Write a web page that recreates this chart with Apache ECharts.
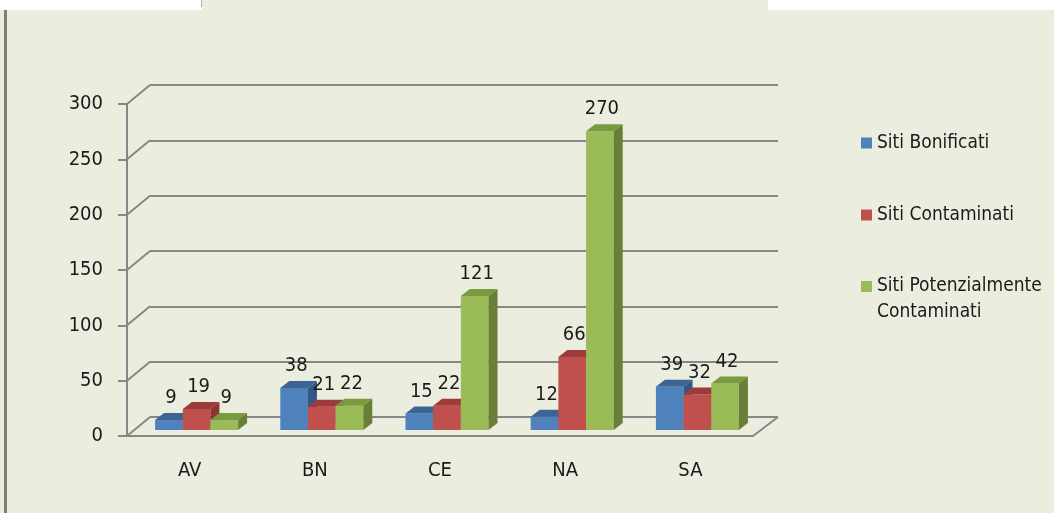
<!DOCTYPE html>
<html>
<head>
<meta charset="utf-8">
<script src="https://cdn.jsdelivr.net/npm/echarts@6/dist/echarts.min.js"></script>
<style>
  html, body { margin: 0; padding: 0; background: #ebeedf; }
  #chart { width: 1054px; height: 513px; }
</style>
</head>
<body>
<div id="chart"></div>
<script>
const province = ['AV', 'BN', 'CE', 'NA', 'SA'];
const bonificati = [9, 38, 15, 12, 39];
const contaminati = [19, 21, 22, 66, 32];
const potenziali = [9, 22, 121, 270, 42];
const yTicks = [0, 50, 100, 150, 200, 250, 300];

const seriesNames = ['Siti Bonificati', 'Siti Contaminati', 'Siti Potenzialmente Contaminati'];
const faceColors = [
  { front: '#4f81bd', top: '#3c6494', side: '#345886' },
  { front: '#c0504d', top: '#9c3b39', side: '#8c3533' },
  { front: '#9bbb59', top: '#7a9a3f', side: '#697f37' }
];
const font = '"DejaVu Sans Condensed", "DejaVu Sans", sans-serif';
const DX = 9, DY = 7;

const chart = echarts.init(document.getElementById('chart'));

function barRender(k) {
  return function (params, api) {
    const i = api.value(0), v = api.value(1);
    const top = api.coord([i, v]);
    const base = api.coord([i, 0]);
    const band = api.size([1, 0])[0];
    const w = band * 0.221;
    const x0 = top[0] - w * 1.5 + k * w;
    const yT = top[1], yB = base[1];
    const c = faceColors[k];
    return {
      type: 'group',
      children: [
        { type: 'rect', shape: { x: x0, y: yT, width: w, height: yB - yT }, style: { fill: c.front } },
        { type: 'polygon', shape: { points: [[x0, yT], [x0 + DX, yT - DY], [x0 + w + DX, yT - DY], [x0 + w, yT]] }, style: { fill: c.top } },
        { type: 'polygon', shape: { points: [[x0 + w, yT], [x0 + w + DX, yT - DY], [x0 + w + DX, yB - DY], [x0 + w, yB]] }, style: { fill: c.side } },
        { type: 'text', style: { x: x0 + w / 2 + 2, y: yT - DY - 5, text: String(v), fill: '#1a1a1a', font: '20px ' + font, align: 'center', verticalAlign: 'bottom' } }
      ]
    };
  };
}

function wallRender(params, api) {
  const v = api.value(1);
  const p = api.coord([0, v]);
  const x = params.coordSys.x;
  const children = [
    { type: 'line', shape: { x1: x, y1: p[1], x2: x + 23, y2: p[1] - 19 }, style: { stroke: '#878787', lineWidth: 2 } }
  ];
  if (v === 0) {
    const xr = params.coordSys.x + params.coordSys.width;
    children.push({ type: 'line', shape: { x1: xr, y1: p[1], x2: xr + 25, y2: p[1] - 19 }, style: { stroke: '#878787', lineWidth: 2 } });
  }
  return { type: 'group', children: children };
}

const seriesData = [bonificati, contaminati, potenziali];

const legendText = { fontSize: 19, lineHeight: 22, color: '#1a1a1a', fontFamily: font };

const option = {
  backgroundColor: '#ebeedf',
  animation: false,
  textStyle: { fontFamily: font },
  grid: [
    { left: 127, top: 104, width: 626, height: 332 },
    { left: 150, top: 85, width: 628, height: 332 },
    { left: 134, top: 98, width: 626, height: 332 }
  ],
  xAxis: [
    {
      gridIndex: 0, type: 'category', data: province,
      axisLine: { lineStyle: { color: '#878787', width: 2 } },
      axisTick: { length: 6, lineStyle: { color: '#878787', width: 2 } },
      axisLabel: { color: '#1a1a1a', fontSize: 20, margin: 25, fontFamily: font }
    },
    { gridIndex: 1, type: 'category', data: province, show: false },
    { gridIndex: 2, type: 'category', data: province, show: false }
  ],
  yAxis: [
    {
      gridIndex: 0, type: 'value', min: 0, max: 300, interval: 50,
      axisLine: { show: true, lineStyle: { color: '#878787', width: 2 } },
      axisTick: { show: true, length: 9, lineStyle: { color: '#878787', width: 2 } },
      axisLabel: { color: '#1a1a1a', fontSize: 20, margin: 24, fontFamily: font },
      splitLine: { show: false }
    },
    {
      gridIndex: 1, type: 'value', min: 0, max: 300, interval: 50,
      axisLine: { show: false }, axisTick: { show: false }, axisLabel: { show: false },
      splitLine: { show: true, lineStyle: { color: '#878787', width: 2 } }
    },
    { gridIndex: 2, type: 'value', min: 0, max: 300, interval: 50, show: false, splitLine: { show: false } }
  ],
  legend: [
    {
      left: 856, top: 127, orient: 'vertical', itemWidth: 11, itemHeight: 11, icon: 'rect',
      data: [seriesNames[0]], textStyle: legendText
    },
    {
      left: 856, top: 199, orient: 'vertical', itemWidth: 11, itemHeight: 11, icon: 'rect',
      data: [seriesNames[1]], textStyle: legendText
    },
    {
      left: 856, top: 246, orient: 'vertical', itemWidth: 11, itemHeight: 11, icon: 'rect',
      data: [seriesNames[2]],
      formatter: () => '{s| }\n{a|Siti Potenzialmente}\n{a|Contaminati}',
      textStyle: {
        color: '#1a1a1a', fontFamily: font, fontSize: 19,
        rich: {
          s: { fontSize: 19, lineHeight: 26 },
          a: { fontSize: 19, lineHeight: 26, color: '#1a1a1a', fontFamily: font }
        }
      }
    }
  ],
  graphic: [
    { type: 'rect', shape: { x: 0, y: 0, width: 202, height: 10 }, style: { fill: '#ffffff' } },
    { type: 'rect', shape: { x: 768, y: 0, width: 286, height: 10 }, style: { fill: '#ffffff' } },
    { type: 'line', shape: { x1: 201.5, y1: 0, x2: 201.5, y2: 7 }, style: { stroke: '#b0b0b0', lineWidth: 1 } },
    { type: 'rect', shape: { x: 4, y: 10, width: 3, height: 503 }, style: { fill: '#7f7f7f' } }
  ],
  series: [
    {
      type: 'custom', name: 'wall', xAxisIndex: 0, yAxisIndex: 0, silent: true,
      data: yTicks.map(v => [0, v]),
      renderItem: wallRender, z: 1
    }
  ].concat(seriesData.map((arr, k) => ({
    type: 'custom',
    name: seriesNames[k],
    xAxisIndex: 2, yAxisIndex: 2,
    itemStyle: { color: faceColors[k].front },
    data: arr.map((v, i) => [i, v]),
    renderItem: barRender(k),
    z: 3
  })))
};

chart.setOption(option);
</script>
</body>
</html>
